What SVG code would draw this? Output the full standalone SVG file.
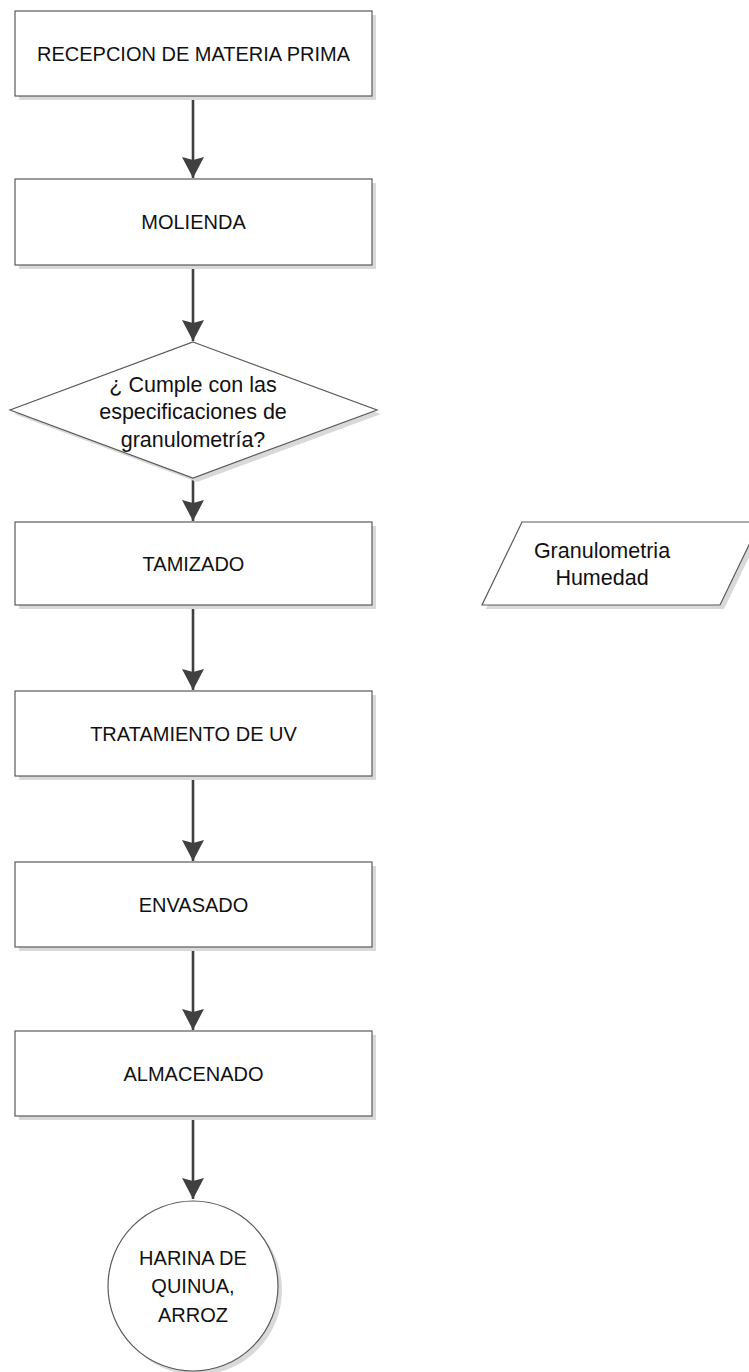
<svg xmlns="http://www.w3.org/2000/svg" width="749" height="1372" viewBox="0 0 749 1372">
<style>
.sh{fill:#d9d9d9;stroke:none}
.nd{fill:#ffffff;stroke:#5a5a5a;stroke-width:1.2}
.t{font-family:"Liberation Sans",Arial,sans-serif;font-size:20px;fill:#111;text-anchor:middle}
.lt{font-size:21.5px}
.cn{stroke:#404040;stroke-width:2.6;fill:none}
</style>
<defs>
<marker id="ah" markerWidth="22" markerHeight="22" refX="21" refY="11" orient="auto" markerUnits="userSpaceOnUse">
<path d="M0,0 L21,11 L0,22 L3,11 Z" fill="#404040"/>
</marker>
</defs>
<rect width="749" height="1372" fill="#ffffff"/>
<g id="connectors">
<line class="cn" x1="193" y1="96" x2="193" y2="178" marker-end="url(#ah)"/>
<line class="cn" x1="193" y1="265" x2="193" y2="341" marker-end="url(#ah)"/>
<line class="cn" x1="193" y1="478" x2="193" y2="521" marker-end="url(#ah)"/>
<line class="cn" x1="193" y1="605" x2="193" y2="690" marker-end="url(#ah)"/>
<line class="cn" x1="193" y1="776" x2="193" y2="861" marker-end="url(#ah)"/>
<line class="cn" x1="193" y1="947" x2="193" y2="1030" marker-end="url(#ah)"/>
<line class="cn" x1="193" y1="1116" x2="193" y2="1199" marker-end="url(#ah)"/>
</g>
<g id="n1">
<rect class="sh" x="19" y="15" width="357" height="85"/>
<rect class="nd" x="15" y="11" width="357" height="85"/>
<text class="t" x="193.5" y="61">RECEPCION DE MATERIA PRIMA</text>
</g>
<g id="n2">
<rect class="sh" x="19" y="183" width="357" height="86"/>
<rect class="nd" x="15" y="179" width="357" height="86"/>
<text class="t" x="193.5" y="229">MOLIENDA</text>
</g>
<g id="n3">
<polygon class="sh" points="197,346 381,414 197,482 14,414"/>
<polygon class="nd" points="193,342 377,410 193,478 10,410"/>
<text class="t lt" x="193" y="392">¿ Cumple con las</text>
<text class="t lt" x="193" y="419">especificaciones de</text>
<text class="t lt" x="193" y="447">granulometría?</text>
</g>
<g id="n4">
<rect class="sh" x="19" y="526" width="357" height="83"/>
<rect class="nd" x="15" y="522" width="357" height="83"/>
<text class="t" x="193.5" y="571">TAMIZADO</text>
</g>
<g id="n5">
<rect class="sh" x="19" y="695" width="357" height="85"/>
<rect class="nd" x="15" y="691" width="357" height="85"/>
<text class="t" x="193.5" y="741">TRATAMIENTO DE UV</text>
</g>
<g id="n6">
<rect class="sh" x="19" y="866" width="357" height="85"/>
<rect class="nd" x="15" y="862" width="357" height="85"/>
<text class="t" x="193.5" y="912">ENVASADO</text>
</g>
<g id="n7">
<rect class="sh" x="19" y="1035" width="357" height="85"/>
<rect class="nd" x="15" y="1031" width="357" height="85"/>
<text class="t" x="193.5" y="1081">ALMACENADO</text>
</g>
<g id="n8">
<circle class="sh" cx="197" cy="1290" r="85"/>
<circle class="nd" cx="193" cy="1286" r="85"/>
<text class="t" x="193" y="1265">HARINA DE</text>
<text class="t" x="193" y="1293">QUINUA,</text>
<text class="t" x="193" y="1322">ARROZ</text>
</g>
<g id="n9">
<polygon class="sh" points="526,526 764,526 724,609 486,609"/>
<polygon class="nd" points="522,522 760,522 720,605 482,605"/>
<text class="t lt" x="602" y="558">Granulometria</text>
<text class="t lt" x="602" y="585">Humedad</text>
</g>
</svg>
